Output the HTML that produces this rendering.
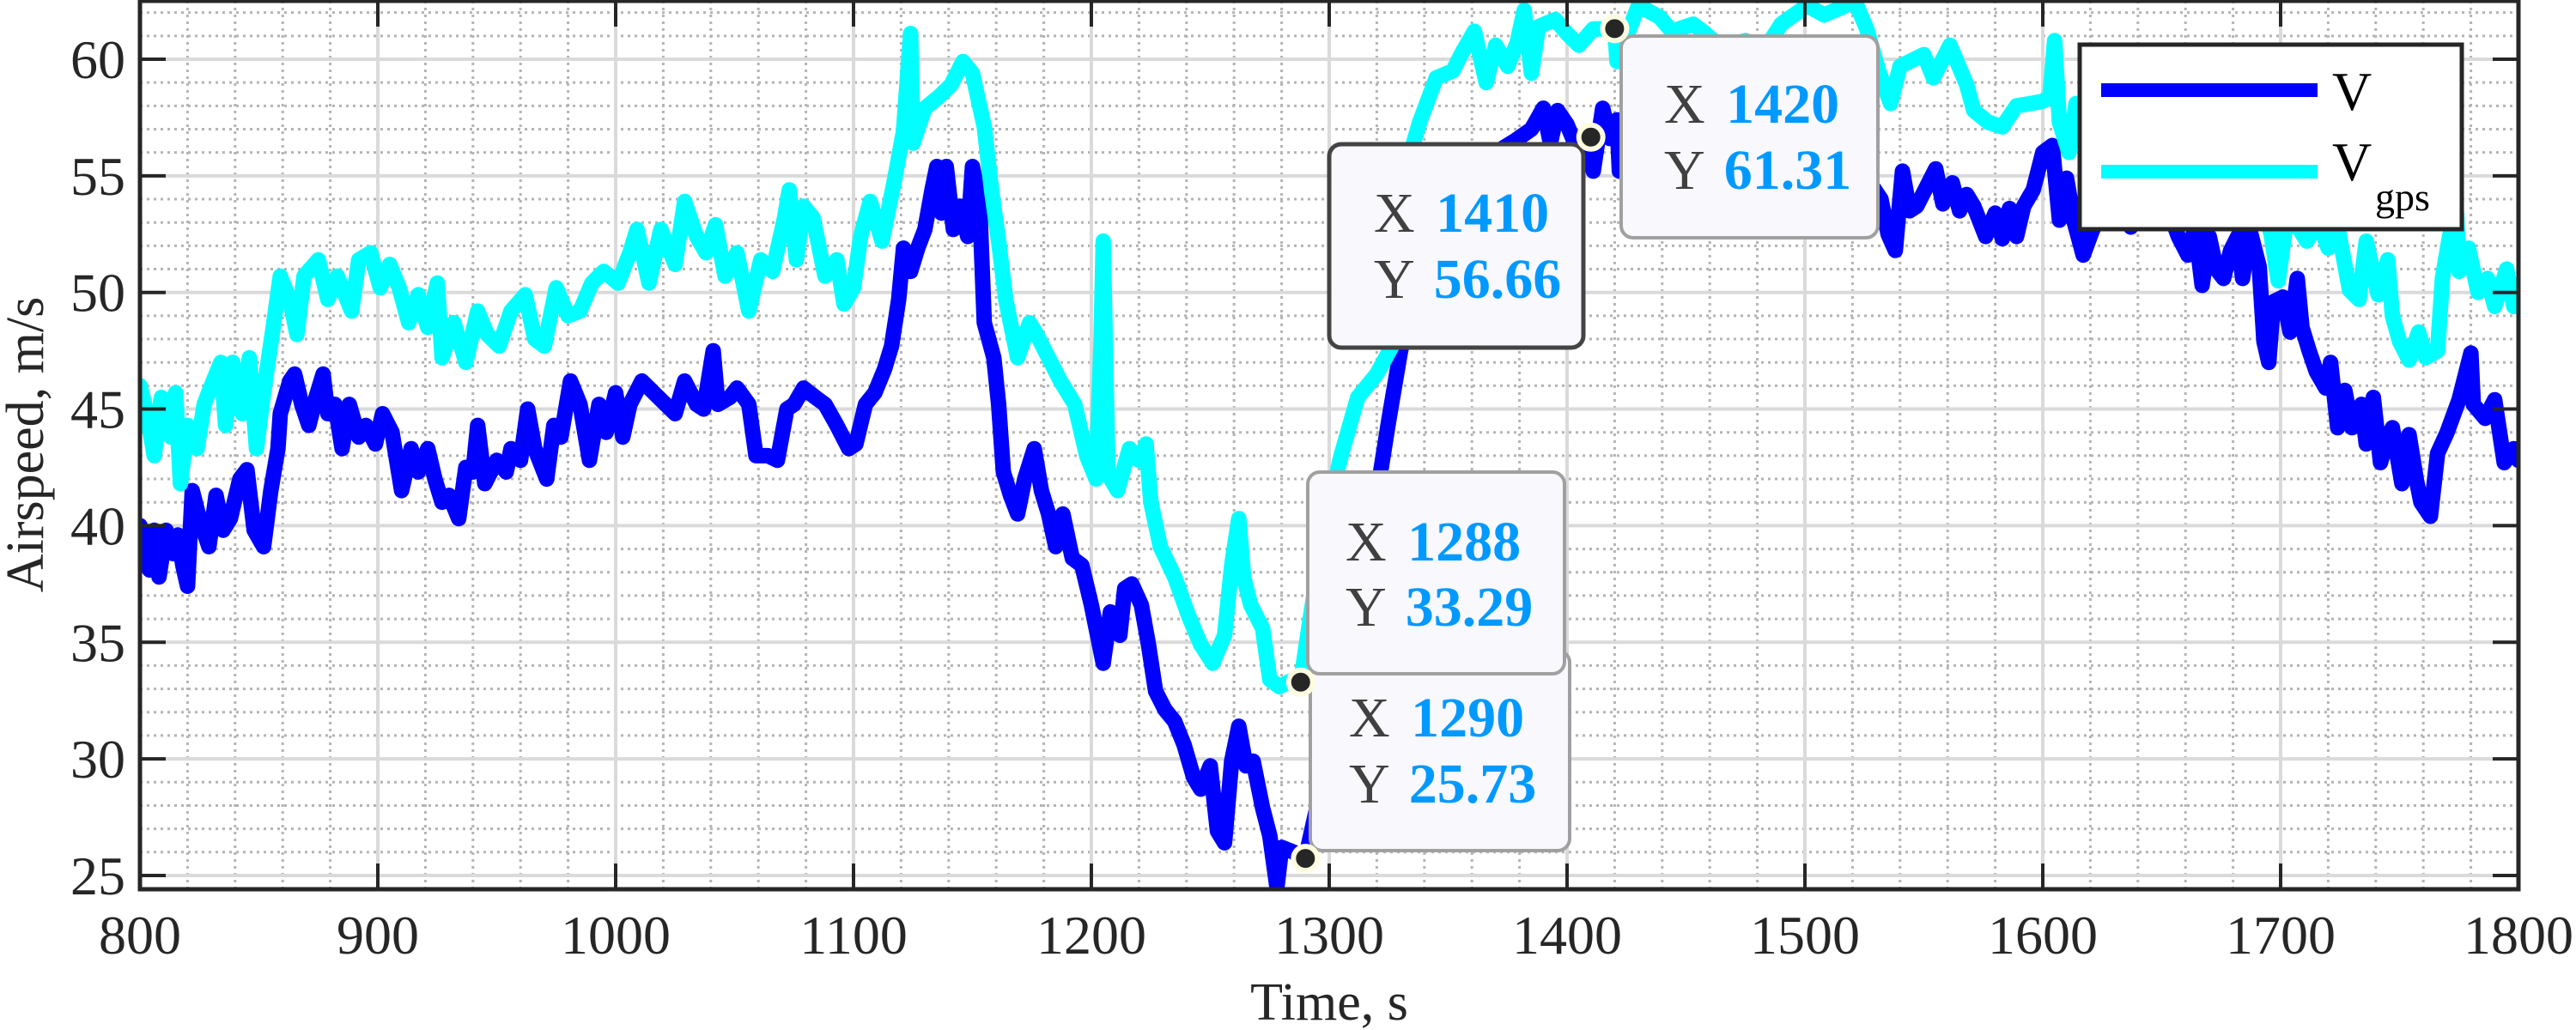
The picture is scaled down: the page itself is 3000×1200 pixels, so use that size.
<!DOCTYPE html>
<html><head><meta charset="utf-8"><style>
html,body{margin:0;padding:0;background:#fff;}
svg{display:block;font-family:"Liberation Serif",serif;}
text{font-family:"Liberation Serif",serif;}
</style></head><body>
<svg id="chart" width="3000" height="1200" viewBox="0 0 3000 1200" xmlns="http://www.w3.org/2000/svg">
<rect x="0" y="0" width="3000" height="1200" fill="#fff"/>
<defs><clipPath id="clip"><rect x="163" y="1" width="2770" height="1035"/></clipPath></defs>
<g id="grid"></g>
<g id="series" clip-path="url(#clip)"></g>
<g id="axes"></g>
<g id="tips"></g>
<g id="legend">
 <rect x="2422" y="52" width="445" height="215" fill="#fff" stroke="#262626" stroke-width="5"/>
 <line x1="2447" y1="105" x2="2699" y2="105" stroke="#0000ff" stroke-width="16"/>
 <text x="2716" y="128" font-size="64" font-family="Liberation Serif, serif" fill="#000">V</text>
 <line x1="2447" y1="200" x2="2699" y2="200" stroke="#00ffff" stroke-width="16"/>
 <text x="2716" y="210" font-size="64" font-family="Liberation Serif, serif" fill="#000">V<tspan x="2766" y="245" font-size="46">gps</tspan></text>
</g>
<text x="1548" y="1188" font-size="62" font-family="Liberation Serif, serif" text-anchor="middle" fill="#262626">Time, s</text>
<text transform="translate(50,518) rotate(-90)" font-size="62" font-family="Liberation Serif, serif" text-anchor="middle" fill="#262626">Airspeed, m/s</text>
</svg>
<script>
const xTicks=[800,900,1000,1100,1200,1300,1400,1500,1600,1700,1800];
const yTicks=[25,30,35,40,45,50,55,60];
const vTime=[800,802,804,806,808,811,814,816,818,820,822,825,829,832,835,838,842,845,848,852,855,858,859,863,865,868,871,874,877,879,882,885,888,892,895,899,902,906,910,914,917,921,924,927,930,934,937,940,942,945,950,954,956,960,963,966,971,974,977,981,985,989,993,996,1000,1003,1006,1011,1016,1021,1025,1029,1034,1037,1041,1043,1048,1051,1056,1059,1064,1068,1072,1075,1079,1084,1088,1093,1098,1101,1105,1109,1113,1116,1119,1121,1124,1127,1130,1133,1135,1137,1139,1142,1145,1148,1150,1153,1155,1159,1161,1163,1166,1169,1172,1176,1179,1182,1185,1188,1192,1196,1200,1202,1205,1208,1212,1214,1217,1221,1224,1227,1231,1235,1239,1243,1246,1250,1253,1256,1259,1262,1265,1268,1272,1275,1278,1280,1285,1289,1290,1295,1300,1305,1310,1318,1325,1330,1335,1340,1348,1355,1362,1370,1378,1385,1390,1393,1396,1400,1404,1410,1411,1415,1418,1421,1422,1428,1435,1442,1450,1460,1470,1480,1490,1500,1510,1520,1528,1532,1535,1538,1541,1544,1547,1551,1555,1558,1562,1565,1568,1571,1576,1580,1583,1586,1589,1592,1596,1600,1604,1607,1610,1613,1617,1621,1627,1633,1637,1642,1648,1653,1657,1661,1664,1667,1670,1673,1676,1679,1682,1684,1687,1691,1693,1695,1697,1701,1704,1707,1709,1712,1715,1719,1721,1724,1727,1730,1734,1736,1739,1742,1745,1747,1751,1754,1757,1759,1763,1766,1770,1775,1780,1781,1786,1790,1794,1798,1800];
const vValues=[40.0,39.1,38.1,39.8,37.8,39.8,38.8,39.6,38.3,37.4,41.5,40.3,39.1,41.3,39.8,40.3,42.0,42.4,39.8,39.1,41.5,43.3,44.8,46.2,46.5,45.2,44.3,45.5,46.5,44.8,45.2,43.3,45.2,43.8,44.3,43.5,44.8,44.0,41.5,43.3,42.3,43.3,42.0,41.0,41.3,40.3,42.5,42.3,44.3,41.8,42.8,42.3,43.3,42.8,45.0,43.3,42.0,44.3,43.8,46.2,45.2,42.8,45.2,44.0,45.7,43.8,45.2,46.2,45.7,45.2,44.8,46.2,45.2,45.0,47.5,45.2,45.5,45.9,45.2,43.0,43.0,42.8,45.0,45.2,45.9,45.5,45.2,44.3,43.3,43.5,45.2,45.7,46.7,47.7,49.7,51.9,50.9,51.9,52.7,54.4,55.4,53.4,55.4,52.7,53.7,52.4,55.4,53.9,48.7,47.2,45.2,42.3,41.3,40.5,42.0,43.3,41.5,40.5,39.1,40.5,38.6,38.3,36.6,35.6,34.1,36.3,35.3,37.3,37.5,36.6,34.9,32.9,32.1,31.6,30.6,29.2,28.7,29.7,26.9,26.4,29.9,31.4,29.7,29.9,27.9,26.7,24.5,26.2,26.0,25.7,25.73,28,31,33.5,36,40,44.5,47.5,49.5,51,52.5,54,55,56,56.5,57,57.9,56.4,57.8,57.2,56.2,56.66,55.2,57.9,56.6,57.4,55.2,56.5,55.8,56.8,55.5,56.3,55.2,56.0,55.0,55.8,54.8,55.5,54.6,54,52.5,51.8,55.2,53.5,53.7,54.5,55.3,53.8,54.7,53.5,54.2,53.7,52.4,53.4,52.3,53.6,52.4,53.7,54.4,56.0,56.3,53.1,54.9,53.1,51.6,52.7,53.8,54.3,52.8,53.9,54.4,53.5,52.4,51.6,52.8,50.3,52.4,51.0,50.6,51.8,52.4,50.6,52.7,51.1,47.9,47.0,49.6,49.8,48.3,50.6,48.5,47.5,46.6,45.9,47.0,44.2,45.8,44.2,45.2,43.5,45.5,42.7,43.8,44.2,41.8,43.9,42.0,41.0,40.4,43.1,44.0,45.4,47.4,45.2,44.6,45.4,42.7,43.3,42.8];
const gTime=[800,803,806,809,813,815,817,820,824,827,830,834,836,839,843,846,849,852,856,859,863,866,869,875,879,883,889,892,897,901,905,909,913,917,921,925,927,932,937,942,946,951,956,962,966,970,975,980,985,990,995,1001,1006,1009,1014,1019,1025,1029,1034,1038,1042,1046,1051,1056,1061,1066,1071,1073,1076,1079,1083,1088,1093,1096,1100,1103,1107,1112,1117,1121,1124,1125,1130,1136,1141,1146,1150,1155,1158,1161,1164,1169,1174,1177,1182,1187,1193,1198,1202,1204,1205,1207,1211,1216,1220,1223,1225,1229,1235,1241,1246,1251,1256,1259,1262,1264,1267,1272,1275,1279,1285,1288,1292,1298,1305,1312,1320,1328,1332,1338,1345,1352,1356,1361,1366,1370,1375,1379,1382,1385,1388,1395,1400,1405,1411,1420,1421,1430,1439,1444,1453,1457,1465,1475,1483,1490,1494,1501,1508,1515,1521,1526,1531,1536,1540,1550,1554,1561,1568,1571,1577,1583,1589,1595,1600,1603,1605,1607,1611,1614,1625,1635,1645,1655,1665,1675,1685,1693,1696,1699,1703,1711,1716,1720,1724,1729,1733,1736,1741,1745,1747,1750,1754,1758,1761,1766,1768,1771,1774,1775,1779,1783,1787,1790,1795,1798,1800];
const gValues=[46.0,44.8,43.0,45.5,43.8,45.7,41.8,44.3,43.3,45.2,46.0,47.0,44.3,47.0,44.8,47.2,43.3,45.7,48.5,50.7,49.7,48.2,50.7,51.4,49.7,50.7,49.2,51.4,51.7,50.2,51.2,50.2,48.7,49.9,48.5,50.4,47.2,48.7,47.0,49.2,48.2,47.7,49.2,49.9,48.0,47.7,50.2,49.0,49.2,50.4,50.9,50.4,51.7,52.7,50.4,52.7,51.2,53.9,52.4,51.7,52.9,50.7,51.7,49.2,51.4,50.9,53.2,54.4,51.4,53.7,53.2,50.7,51.4,49.5,50.2,52.4,53.9,52.2,54.7,56.9,61.1,56.4,57.9,58.4,58.9,59.9,59.4,57.1,54.4,52.2,49.7,47.2,48.7,48.2,47.2,46.2,45.2,43.0,42.0,47.7,52.2,42.2,41.5,43.3,42.8,43.5,41.0,39.1,37.8,36.1,34.9,34.1,35.3,38.3,40.3,37.8,36.6,35.6,33.4,33.1,33.4,33.29,36,40,43,45.5,46.5,48,55.2,57.3,59.2,59.5,60.3,61.2,59.0,60.6,59.7,60.7,62.1,59.4,61.4,61.7,61.1,60.6,61.3,61.31,59.9,62.3,61.8,61.2,61.5,61.2,60.5,60.8,60.4,61.5,61.8,62.3,61.9,62.2,62.5,61.3,59.5,58.1,59.7,60.2,59.2,60.6,58.9,57.8,57.3,57.1,58.0,58.1,58.2,58.4,60.8,57.3,56.0,58.1,57.0,56.2,56.8,55.5,56.0,54.8,55.2,53.5,52.5,50.5,53.5,52.2,53.0,51.9,52.8,50.1,49.7,52.2,49.9,51.4,49.0,47.9,47.1,48.3,47.2,47.5,50.6,52.4,53.4,50.9,51.9,50.0,50.6,49.4,51.0,49.4,49.8];
const tipX=[1290,1288,1410,1420];
const tipY=[25.73,33.29,56.66,61.31];
const tipLabelX=["1290","1288","1410","1420"];
const tipLabelY=["25.73","33.29","56.66","61.31"];

const NS="http://www.w3.org/2000/svg";
const FONT="Liberation Serif, serif";
const X0=163,X1=2933,XMIN=800,XMAX=1800;
const sx=v=>X0+(v-XMIN)*(X1-X0)/(XMAX-XMIN);
const sy=v=>69+(60-v)*27.17;
function mk(tag,attrs,parent){const e=document.createElementNS(NS,tag);for(const k in attrs)e.setAttribute(k,attrs[k]);parent.appendChild(e);return e;}
const grid=document.getElementById('grid'),axes=document.getElementById('axes'),series=document.getElementById('series'),tips=document.getElementById('tips');
for(let v=XMIN;v<=XMAX;v+=20){if((v-XMIN)%100===0)continue;const l=mk('line',{x1:sx(v),x2:sx(v),y1:1,y2:1036,stroke:'#b4b4b4','stroke-width':3,'stroke-dasharray':'3 5'},grid);

}
for(let v=25;v<=62;v+=1){if(v%5===0)continue;const l=mk('line',{x1:163,x2:2933,y1:sy(v),y2:sy(v),stroke:'#b4b4b4','stroke-width':3,'stroke-dasharray':'3 5'},grid);

}
xTicks.forEach(v=>{const x=sx(v);
const g=mk('line',{x1:x,x2:x,y1:1,y2:1036,stroke:'#dadada','stroke-width':4},grid);


mk('line',{x1:x,x2:x,y1:1036,y2:1006,stroke:'#262626','stroke-width':4},axes);
mk('line',{x1:x,x2:x,y1:1,y2:31,stroke:'#262626','stroke-width':4},axes);
const t=mk('text',{x:x,y:1111,'font-size':64,'font-family':FONT,'text-anchor':'middle',fill:'#262626'},axes);t.textContent=v;

});
yTicks.forEach(v=>{const y=sy(v);
const g=mk('line',{x1:163,x2:2933,y1:y,y2:y,stroke:'#dadada','stroke-width':4},grid);


mk('line',{x1:163,x2:193,y1:y,y2:y,stroke:'#262626','stroke-width':4},axes);
mk('line',{x1:2933,x2:2903,y1:y,y2:y,stroke:'#262626','stroke-width':4},axes);
const t=mk('text',{x:146,y:y+22,'font-size':64,'font-family':FONT,'text-anchor':'end',fill:'#262626'},axes);t.textContent=v;

});
const box=mk('rect',{x:163,y:1,width:2770,height:1035,fill:'none',stroke:'#262626','stroke-width':5},axes);


function line(ts,vs,color,name){const d=ts.map((t,i)=>(i?'L':'M')+sx(t).toFixed(1)+' '+sy(vs[i]).toFixed(1)).join('');
const p=mk('path',{d:d,fill:'none',stroke:color,'stroke-width':18,'stroke-linejoin':'round','stroke-linecap':'round'},series);

}
line(vTime,vValues,'#0000ff','series-v');
line(gTime,gValues,'#00ffff','series-vgps');
// datatip boxes: [x, y, w, h, stroke, strokeWidth, textX, line1Baseline, line2Baseline]
const boxes=[[1526,758,302,233,'#a0a0a0',4,1571,858,935],[1523,550,299,235,'#a0a0a0',4,1567,653,729],[1548,168,296,237,'#444444',5,1600,270,347],[1888,42,299,235,'#a0a0a0',4,1938,143,220]];
boxes.forEach((b,i)=>{
const g=mk('g',{},tips);


mk('rect',{x:b[0],y:b[1],width:b[2],height:b[3],rx:14,fill:'#f8f8fd',stroke:b[4],'stroke-width':b[5]},g);
const t1=mk('text',{x:b[6],y:b[7],'font-size':66,'font-family':FONT,fill:'#404040'},g);t1.textContent='X ';
const n1=mk('tspan',{fill:'#0099ff','font-weight':'bold',dx:8},t1);n1.textContent=tipLabelX[i];
const t2=mk('text',{x:b[6],y:b[8],'font-size':66,'font-family':FONT,fill:'#404040'},g);t2.textContent='Y ';
const n2=mk('tspan',{fill:'#0099ff','font-weight':'bold',dx:8},t2);n2.textContent=tipLabelY[i];});
tipX.forEach((tx,i)=>{const c=mk('circle',{cx:sx(tx),cy:sy(tipY[i]),r:14,fill:'#262626',stroke:'#fffbe0','stroke-width':6},tips);

});
</script>
</body></html>
